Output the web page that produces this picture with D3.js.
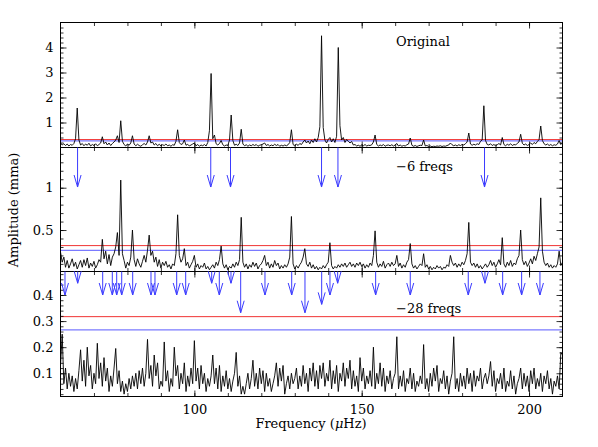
<!DOCTYPE html>
<html>
<head>
<meta charset="utf-8">
<script src="https://d3js.org/d3.v7.min.js"></script>
<style>
  body { margin: 0; background: #fff; }
  svg { display: block; }
</style>
</head>
<body>
<div id="main-chart"></div>
<script>
// amplitude spectra, sampled every 0.5 uHz from 60 to 210 uHz
var freqStart = 60, freqStep = 0.5;

var ampOriginal = [
  0.18,0.10,0.15,0.08,0.14,0.06,0.12,0.09,0.16,0.35,1.58,0.30,0.10,0.16,0.07,0.14,0.09,0.17,0.06,0.12,
  0.08,0.15,0.07,0.12,0.18,0.43,0.15,0.22,0.10,0.18,0.08,0.16,0.22,0.30,0.47,0.20,1.07,0.25,0.12,0.06,
  0.14,0.09,0.18,0.47,0.14,0.07,0.13,0.08,0.05,0.11,0.16,0.10,0.22,0.47,0.18,0.22,0.10,0.16,0.07,0.13,
  0.06,0.11,0.08,0.14,0.07,0.10,0.05,0.11,0.09,0.25,0.71,0.20,0.12,0.15,0.30,0.09,0.13,0.06,0.10,0.14,
  0.18,0.07,0.12,0.05,0.10,0.07,0.12,0.06,0.20,0.67,2.96,0.35,0.50,0.15,0.10,0.16,0.28,0.11,0.06,0.10,
  0.08,0.30,1.30,0.28,0.09,0.13,0.08,0.18,0.73,0.14,0.07,0.11,0.05,0.10,0.07,0.12,0.08,0.12,0.05,0.09,
  0.11,0.14,0.18,0.08,0.12,0.06,0.10,0.07,0.13,0.08,0.12,0.05,0.09,0.06,0.10,0.07,0.11,0.20,0.71,0.12,
  0.06,0.14,0.08,0.16,0.12,0.22,0.30,0.18,0.26,0.15,0.30,0.20,0.35,0.22,0.40,0.83,4.47,0.80,0.30,0.18,
  0.32,0.40,0.22,0.35,0.20,0.45,4.00,0.87,0.30,0.40,0.20,0.32,0.25,0.18,0.24,0.10,0.12,0.06,0.09,0.05,
  0.10,0.07,0.12,0.06,0.09,0.08,0.11,0.22,0.50,0.12,0.06,0.10,0.07,0.12,0.05,0.09,0.10,0.07,0.11,0.06,
  0.10,0.16,0.06,0.10,0.05,0.08,0.06,0.11,0.14,0.38,0.09,0.05,0.08,0.04,0.07,0.09,0.08,0.30,0.06,0.08,
  0.04,0.06,0.03,0.05,0.04,0.06,0.05,0.07,0.04,0.06,0.05,0.08,0.10,0.18,0.11,0.07,0.10,0.06,0.11,0.08,
  0.12,0.10,0.15,0.22,0.58,0.14,0.09,0.13,0.10,0.15,0.12,0.25,0.30,1.67,0.28,0.12,0.10,0.15,0.08,0.12,
  0.07,0.11,0.16,0.10,0.40,0.12,0.07,0.13,0.09,0.15,0.08,0.12,0.10,0.17,0.22,0.53,0.17,0.10,0.14,0.08,
  0.12,0.18,0.12,0.20,0.15,0.24,0.32,0.86,0.28,0.15,0.10,0.14,0.08,0.12,0.07,0.11,0.09,0.14,0.28,0.12,
  0.20
];

var ampMinus6 = [
  0.24,0.12,0.18,0.06,0.14,0.05,0.10,0.16,0.07,0.12,0.04,0.09,0.14,0.06,0.15,0.08,0.17,0.05,0.11,0.07,
  0.13,0.05,0.09,0.15,0.12,0.39,0.16,0.25,0.10,0.21,0.08,0.18,0.22,0.30,0.47,0.20,1.09,0.22,0.14,0.05,
  0.12,0.08,0.18,0.50,0.15,0.07,0.16,0.10,0.06,0.13,0.20,0.12,0.26,0.44,0.20,0.25,0.12,0.18,0.07,0.15,
  0.05,0.12,0.08,0.13,0.06,0.09,0.04,0.10,0.08,0.22,0.68,0.20,0.12,0.16,0.28,0.08,0.12,0.05,0.09,0.13,
  0.20,0.06,0.10,0.04,0.08,0.06,0.11,0.04,0.07,0.03,0.06,0.09,0.05,0.12,0.08,0.15,0.31,0.10,0.05,0.09,
  0.03,0.07,0.05,0.10,0.06,0.12,0.08,0.15,0.65,0.12,0.06,0.10,0.04,0.09,0.06,0.12,0.07,0.11,0.04,0.08,
  0.10,0.14,0.20,0.08,0.12,0.05,0.10,0.06,0.14,0.08,0.11,0.04,0.08,0.05,0.09,0.06,0.10,0.18,0.66,0.10,
  0.04,0.08,0.05,0.09,0.12,0.18,0.28,0.10,0.07,0.12,0.05,0.09,0.04,0.07,0.03,0.06,0.04,0.08,0.05,0.09,
  0.12,0.35,0.08,0.04,0.07,0.05,0.09,0.06,0.10,0.07,0.11,0.06,0.09,0.12,0.07,0.10,0.06,0.11,0.08,0.12,
  0.07,0.10,0.05,0.09,0.06,0.11,0.08,0.20,0.49,0.12,0.06,0.10,0.07,0.13,0.05,0.09,0.11,0.07,0.12,0.08,
  0.10,0.20,0.07,0.11,0.05,0.09,0.06,0.12,0.15,0.34,0.10,0.05,0.08,0.04,0.07,0.10,0.08,0.22,0.06,0.09,
  0.04,0.07,0.03,0.06,0.04,0.08,0.05,0.07,0.03,0.06,0.05,0.09,0.07,0.20,0.12,0.08,0.11,0.06,0.10,0.07,
  0.12,0.09,0.14,0.22,0.59,0.12,0.08,0.11,0.06,0.10,0.05,0.08,0.04,0.07,0.10,0.06,0.09,0.14,0.08,0.12,
  0.06,0.10,0.15,0.09,0.41,0.10,0.06,0.12,0.08,0.14,0.07,0.11,0.09,0.16,0.20,0.50,0.15,0.09,0.13,0.07,
  0.11,0.16,0.10,0.19,0.14,0.22,0.30,0.88,0.25,0.12,0.08,0.11,0.06,0.09,0.05,0.08,0.06,0.10,0.25,0.08,
  0.12
];

var ampMinus28 = [
  0.13,0.25,0.06,0.12,0.04,0.10,0.05,0.09,0.03,0.08,0.04,0.11,0.19,0.07,0.15,0.05,0.20,0.09,0.13,0.04,
  0.10,0.06,0.215,0.08,0.14,0.05,0.16,0.07,0.12,0.03,0.09,0.05,0.12,0.195,0.06,0.11,0.03,0.07,0.02,0.06,
  0.03,0.08,0.04,0.09,0.05,0.10,0.04,0.11,0.06,0.12,0.05,0.10,0.23,0.08,0.13,0.05,0.17,0.09,0.14,0.04,
  0.07,0.05,0.22,0.07,0.11,0.03,0.08,0.05,0.20,0.09,0.13,0.04,0.10,0.06,0.14,0.03,0.09,0.05,0.12,0.06,
  0.225,0.07,0.12,0.04,0.13,0.06,0.10,0.03,0.08,0.05,0.09,0.17,0.06,0.12,0.04,0.13,0.03,0.09,0.05,0.11,
  0.04,0.08,0.03,0.07,0.10,0.18,0.05,0.09,0.02,0.05,0.02,0.06,0.10,0.04,0.08,0.15,0.05,0.10,0.04,0.12,
  0.06,0.11,0.03,0.10,0.05,0.08,0.03,0.06,0.09,0.14,0.05,0.12,0.07,0.13,0.02,0.06,0.09,0.04,0.10,0.06,
  0.08,0.12,0.04,0.09,0.05,0.13,0.06,0.10,0.03,0.12,0.07,0.14,0.05,0.11,0.04,0.13,0.08,0.14,0.05,0.10,
  0.07,0.15,0.04,0.11,0.06,0.13,0.03,0.10,0.07,0.14,0.05,0.12,0.08,0.15,0.04,0.11,0.05,0.09,0.03,0.16,
  0.07,0.12,0.04,0.09,0.06,0.11,0.05,0.20,0.04,0.10,0.06,0.14,0.05,0.12,0.03,0.09,0.06,0.11,0.04,0.08,
  0.10,0.24,0.04,0.09,0.05,0.11,0.03,0.08,0.06,0.12,0.04,0.10,0.03,0.07,0.05,0.09,0.06,0.21,0.04,0.08,
  0.03,0.10,0.05,0.12,0.07,0.13,0.03,0.08,0.06,0.11,0.04,0.09,0.02,0.07,0.10,0.24,0.04,0.08,0.03,0.10,
  0.05,0.09,0.04,0.12,0.06,0.10,0.03,0.11,0.05,0.09,0.07,0.12,0.04,0.08,0.10,0.06,0.09,0.145,0.05,0.11,
  0.03,0.08,0.06,0.10,0.04,0.12,0.03,0.07,0.05,0.11,0.04,0.09,0.02,0.06,0.08,0.12,0.04,0.10,0.05,0.09,
  0.03,0.11,0.06,0.12,0.04,0.08,0.05,0.10,0.03,0.09,0.06,0.11,0.04,0.08,0.02,0.07,0.05,0.09,0.04,0.18,
  0.17
];

// frequencies removed at each step (arrows) and where the arrow tips sit
var removed6 = [65.1, 104.9, 110.8, 138.0, 142.9, 186.7];
var removed6Tip = 1.008;
var removed28 = [61.34, 65.14, 72.61, 75.48, 76.79, 78.29, 81.57, 87.04, 88.23, 94.72,
                 97.41, 105.18, 107.45, 110.94, 113.84, 121.10, 129.08, 133.05, 138.04, 140.52,
                 142.82, 154.17, 164.51, 181.84, 186.83, 192.12, 197.79, 203.26];
var removed28Tip = [0.40, 0.445, 0.40, 0.40, 0.40, 0.40, 0.40, 0.40, 0.40, 0.40,
                    0.40, 0.445, 0.40, 0.445, 0.332, 0.40, 0.40, 0.332, 0.364, 0.40,
                    0.445, 0.40, 0.40, 0.40, 0.445, 0.40, 0.40, 0.40];

// significance levels (red / blue) in each panel
var redLevel = [0.317, 0.316, 0.317];
var blueLevel = [0.266, 0.26, 0.266];

var panelNames = ["Original", "\u22126 freqs", "\u221228 freqs"];
var yMajorTicks = [[1, 2, 3, 4], [0.5, 1], [0.1, 0.2, 0.3, 0.4]];
var xMajorTicks = [100, 150, 200];

var svg, x;
var left = 60.5, right = 562.5;
var panelEdges = [22.5, 147.5, 271.5, 396.5];
var panelDomains = [[0, 5], [0.01, 1.475], [0.011, 0.49]];
var yMinorTicks = [d3.range(0.2, 4.9, 0.2), d3.range(0.1, 1.45, 0.1), d3.range(0.02, 0.485, 0.02)];
var xMinorTicks = d3.range(70, 210, 10);
var series = [ampOriginal, ampMinus6, ampMinus28];
var font = "DejaVu Serif, serif";

function setup() {
  svg = d3
    .select("#main-chart")
    .append("svg")
    .attr("width", 598)
    .attr("height", 447);

  x = d3.scaleLinear().domain([60, 210]).range([left, right]);
}

function styleAxis(g) {
  g.select(".domain").remove();
  g.selectAll(".tick line").attr("stroke", "#000").attr("stroke-width", 0.8);
  g.attr("font-family", font).attr("font-size", 13);
  g.selectAll("text").attr("fill", "#000");
}

function drawPanel(i) {
  var top = panelEdges[i], bottom = panelEdges[i + 1];
  var y = d3.scaleLinear().domain(panelDomains[i]).range([bottom, top]);
  var g = svg.append("g").attr("class", "panel" + i);

  // significance lines
  g.append("line")
    .attr("x1", left).attr("x2", right)
    .attr("y1", y(redLevel[i])).attr("y2", y(redLevel[i]))
    .attr("stroke", "#f03434").attr("stroke-width", 1);
  g.append("line")
    .attr("x1", left).attr("x2", right)
    .attr("y1", y(blueLevel[i])).attr("y2", y(blueLevel[i]))
    .attr("stroke", "#7a7aff").attr("stroke-width", 1.2);

  // spectrum
  var line = d3.line()
    .x(function(d, k) { return x(freqStart + k * freqStep); })
    .y(function(d) { return y(d); });
  g.append("path")
    .attr("d", line(series[i]))
    .attr("fill", "none")
    .attr("stroke", "#000")
    .attr("stroke-width", 0.9)
    .attr("stroke-linejoin", "miter");

  // frame
  g.append("rect")
    .attr("x", left).attr("y", top)
    .attr("width", right - left).attr("height", bottom - top)
    .attr("fill", "none").attr("stroke", "#000").attr("stroke-width", 1);

  // y ticks, left and right
  g.append("g").attr("transform", "translate(" + left + ",0)")
    .call(d3.axisLeft(y).tickValues(yMinorTicks[i]).tickSize(-3).tickFormat(""))
    .call(styleAxis);
  g.append("g").attr("transform", "translate(" + left + ",0)")
    .call(d3.axisLeft(y).tickValues(yMajorTicks[i]).tickSize(-6).tickPadding(7)
      .tickFormat(function(d) { return String(d); }))
    .call(styleAxis);
  g.append("g").attr("transform", "translate(" + right + ",0)")
    .call(d3.axisRight(y).tickValues(yMinorTicks[i]).tickSize(-3).tickFormat(""))
    .call(styleAxis);
  g.append("g").attr("transform", "translate(" + right + ",0)")
    .call(d3.axisRight(y).tickValues(yMajorTicks[i]).tickSize(-6).tickFormat(""))
    .call(styleAxis);

  // x ticks, top and bottom
  g.append("g").attr("transform", "translate(0," + top + ")")
    .call(d3.axisTop(x).tickValues(xMinorTicks).tickSize(-3.5).tickFormat(""))
    .call(styleAxis);
  g.append("g").attr("transform", "translate(0," + top + ")")
    .call(d3.axisTop(x).tickValues(xMajorTicks).tickSize(-6).tickFormat(""))
    .call(styleAxis);
  g.append("g").attr("transform", "translate(0," + bottom + ")")
    .call(d3.axisBottom(x).tickValues(xMinorTicks).tickSize(-3.5).tickFormat(""))
    .call(styleAxis);
  g.append("g").attr("transform", "translate(0," + bottom + ")")
    .call(d3.axisBottom(x).tickValues(xMajorTicks).tickSize(-6).tickPadding(8)
      .tickFormat(i === 2 ? d3.format("d") : ""))
    .call(styleAxis);

  g.append("text")
    .attr("x", 396)
    .attr("y", [46, 171, 312.5][i])
    .attr("font-family", font)
    .attr("font-size", 13)
    .text(panelNames[i]);

  return y;
}

function drawArrows(freqs, tips, startY, y) {
  var g = svg.append("g").attr("class", "arrows")
    .attr("stroke", "#3a3aff").attr("stroke-width", 1).attr("fill", "none");
  freqs.forEach(function(f, k) {
    var ax = x(f), ty = y(Array.isArray(tips) ? tips[k] : tips);
    g.append("line").attr("x1", ax).attr("x2", ax).attr("y1", startY).attr("y2", ty);
    g.append("path").attr("d", "M" + (ax - 3.5) + "," + (ty - 12) + "L" + ax + "," + ty + "L" + (ax + 3.5) + "," + (ty - 12));
  });
}

function labels() {
  svg.append("text")
    .attr("x", 311).attr("y", 427.5)
    .attr("text-anchor", "middle")
    .attr("font-family", font).attr("font-size", 13)
    .call(function(t) {
      t.append("tspan").text("Frequency (");
      t.append("tspan").attr("font-style", "italic").text("\u03bc");
      t.append("tspan").text("Hz)");
    });

  svg.append("text")
    .attr("transform", "translate(18,210) rotate(-90)")
    .attr("text-anchor", "middle")
    .attr("font-family", font).attr("font-size", 13)
    .text("Amplitude (mma)");
}

setup();
var yScales = [0, 1, 2].map(drawPanel);
drawArrows(removed6, removed6Tip, panelEdges[1], yScales[1]);
drawArrows(removed28, removed28Tip, panelEdges[2], yScales[2]);
labels();
</script>
</body>
</html>
